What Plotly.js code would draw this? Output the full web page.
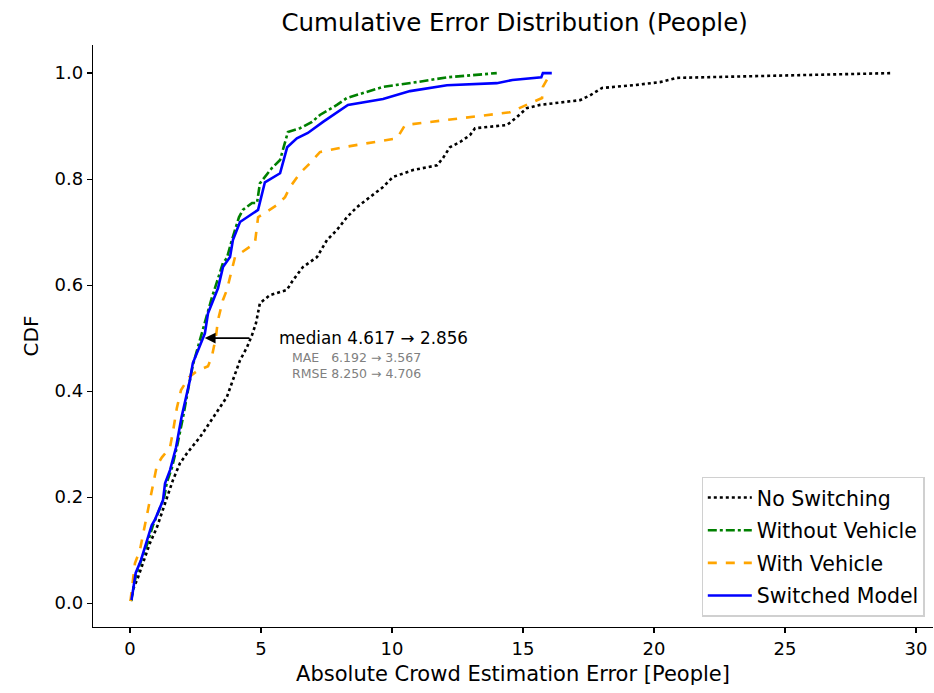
<!DOCTYPE html>
<html>
<head>
<meta charset="utf-8">
<script src="https://cdn.plot.ly/plotly-3.0.1.min.js"></script>
<style>html,body{margin:0;padding:0;background:#fff;}#chart{width:934px;height:693px;}</style>
</head>
<body>
<div id="chart"></div>
<script>
// Series: x = absolute error [people], y = CDF
const noSwitchX = [0.04,0.11,0.31,0.57,0.76,1.03,1.22,1.41,1.64,1.91,2.18,2.67,3.17,3.70,3.93,4.20,4.47,4.66,4.81,4.96,5.34,5.99,6.22,6.60,7.14,7.52,7.90,8.28,8.66,9.16,9.66,10.04,10.80,11.72,11.95,12.21,12.60,12.98,13.17,14.39,14.77,15.15,15.65,17.18,17.56,18.02,19.2,20.23,20.88,29.12];
const noSwitchY = [0.004,0.025,0.049,0.087,0.113,0.143,0.170,0.200,0.232,0.264,0.283,0.313,0.351,0.389,0.421,0.458,0.483,0.506,0.528,0.566,0.581,0.591,0.609,0.634,0.653,0.685,0.704,0.728,0.747,0.766,0.785,0.804,0.817,0.826,0.840,0.860,0.870,0.883,0.896,0.902,0.917,0.934,0.940,0.949,0.958,0.972,0.977,0.983,0.991,1.0];

const withoutVehX = [0.04,0.23,0.46,0.65,0.88,1.03,1.30,1.41,1.60,1.79,2.02,2.25,2.40,2.56,2.67,2.82,2.94,3.13,3.32,3.55,3.70,3.89,4.16,4.31,4.66,4.85,4.96,5.15,5.42,5.73,5.92,6.03,6.49,6.95,7.25,7.90,8.28,8.89,9.66,10.95,12.1,14.0];
const withoutVehY = [0.004,0.053,0.085,0.110,0.147,0.166,0.198,0.228,0.255,0.294,0.349,0.411,0.449,0.477,0.496,0.525,0.547,0.577,0.606,0.642,0.651,0.685,0.728,0.742,0.755,0.755,0.792,0.804,0.821,0.836,0.870,0.889,0.896,0.908,0.921,0.940,0.953,0.962,0.974,0.983,0.992,1.0];

const withVehX = [0.02,0.08,0.19,0.38,0.57,0.84,1.03,1.22,1.53,1.64,1.79,1.95,2.25,2.56,2.98,3.13,3.28,3.36,3.55,3.70,4.01,4.77,4.89,5.61,5.92,6.11,6.49,6.87,7.25,8.13,10.19,10.50,14.5,15.73,15.76,15.95];
const withVehY = [0.004,0.028,0.075,0.100,0.147,0.209,0.260,0.275,0.294,0.323,0.368,0.402,0.426,0.438,0.447,0.466,0.502,0.534,0.572,0.591,0.653,0.679,0.728,0.751,0.766,0.785,0.811,0.830,0.851,0.860,0.877,0.902,0.926,0.953,0.974,0.991];

const switchedX = [0.06,0.22,0.42,0.57,0.83,0.95,1.26,1.34,1.53,1.76,1.97,2.29,2.40,2.60,2.86,2.98,3.31,3.36,3.55,3.82,3.93,4.20,4.89,5.15,5.73,6.00,6.37,6.79,7.37,7.90,8.32,9.66,10.69,12.1,14.0,14.6,15.7,15.76,16.1];
const switchedY = [0.006,0.057,0.081,0.106,0.147,0.157,0.194,0.226,0.251,0.294,0.351,0.421,0.453,0.477,0.509,0.547,0.591,0.594,0.634,0.653,0.685,0.719,0.742,0.794,0.811,0.860,0.877,0.887,0.908,0.925,0.940,0.951,0.966,0.977,0.981,0.987,0.992,1.0,1.0];

const seriesNames = ["No Switching","Without Vehicle","With Vehicle","Switched Model"];
const medianFrom = 4.617, medianTo = 2.856;
const maeFrom = 6.192, maeTo = 3.567;
const rmseFrom = 8.250, rmseTo = 4.706;

const font = "DejaVu Sans, Verdana, sans-serif";

const traces = [
  {x:noSwitchX, y:noSwitchY, name:seriesNames[0], legendgroup:'a', mode:'lines', line:{color:'#000000', width:2.6, dash:'dot'}},
  {x:withoutVehX, y:withoutVehY, name:seriesNames[1], legendgroup:'b', mode:'lines', line:{color:'#008000', width:2.6, dash:'dashdot'}},
  {x:withVehX, y:withVehY, name:seriesNames[2], legendgroup:'c', mode:'lines', line:{color:'#FFA500', width:2.6, dash:'dash'}},
  {x:switchedX, y:switchedY, name:seriesNames[3], legendgroup:'d', mode:'lines', line:{color:'#0000FF', width:2.6}}
];

const layout = {
  width:934, height:693,
  margin:{l:93, r:1, t:45, b:66},
  paper_bgcolor:'#fff', plot_bgcolor:'#fff',
  font:{family:font, color:'#000', size:18},
  title:{text:'Cumulative Error Distribution (People)', font:{family:font, size:24.5, color:'#000'}, x:0.551, xanchor:'center', y:0.967, yanchor:'middle'},
  xaxis:{range:[-1.41,30.65], showgrid:false, zeroline:false, showline:true, linecolor:'#000', linewidth:1.3,
         ticks:'outside', ticklen:5, tickwidth:1.2, tickcolor:'#000', tickvals:[0,5,10,15,20,25,30],
         tickfont:{size:18}, title:{text:'Absolute Crowd Estimation Error [People]', font:{size:21}, standoff:8}},
  yaxis:{range:[-0.045,1.053], showgrid:false, zeroline:false, showline:true, linecolor:'#000', linewidth:1.3,
         ticks:'outside', ticklen:5, tickwidth:1.2, tickcolor:'#000', tickvals:[0,0.2,0.4,0.6,0.8,1.0],
         ticktext:['0.0','0.2','0.4','0.6','0.8','1.0'], tickfont:{size:18},
         title:{text:'CDF', font:{size:20}, standoff:10}},
  legend:{x:0.99, y:0.018, xanchor:'right', yanchor:'bottom', bgcolor:'rgba(255,255,255,0.85)',
          bordercolor:'#d0d0d0', borderwidth:1.2, font:{size:20.5}, tracegroupgap:3, itemwidth:44},
  showlegend:true,
  annotations:[
    {x:medianTo, y:0.5, ax:medianFrom, ay:0.5, xref:'x', yref:'y', axref:'x', ayref:'y', text:'',
     showarrow:true, arrowhead:2, arrowsize:1.2, arrowwidth:1.8, arrowcolor:'#000'},
    {x:5.6, y:0.5, xref:'x', yref:'y', xanchor:'left', yanchor:'middle', showarrow:false,
     text:'median '+medianFrom.toFixed(3)+' \u2192 '+medianTo.toFixed(3), font:{size:16.8, color:'#000'}},
    {x:6.1, y:0.463, xref:'x', yref:'y', xanchor:'left', yanchor:'middle', showarrow:false, align:'left',
     text:'MAE   '+maeFrom.toFixed(3)+' \u2192 '+maeTo.toFixed(3), font:{size:12.5, color:'#808080'}},
    {x:6.1, y:0.434, xref:'x', yref:'y', xanchor:'left', yanchor:'middle', showarrow:false, align:'left',
     text:'RMSE '+rmseFrom.toFixed(3)+' \u2192 '+rmseTo.toFixed(3), font:{size:12.5, color:'#808080'}}
  ]
};

Plotly.newPlot('chart', traces, layout, {displayModeBar:false, staticPlot:true});
</script>
</body>
</html>
